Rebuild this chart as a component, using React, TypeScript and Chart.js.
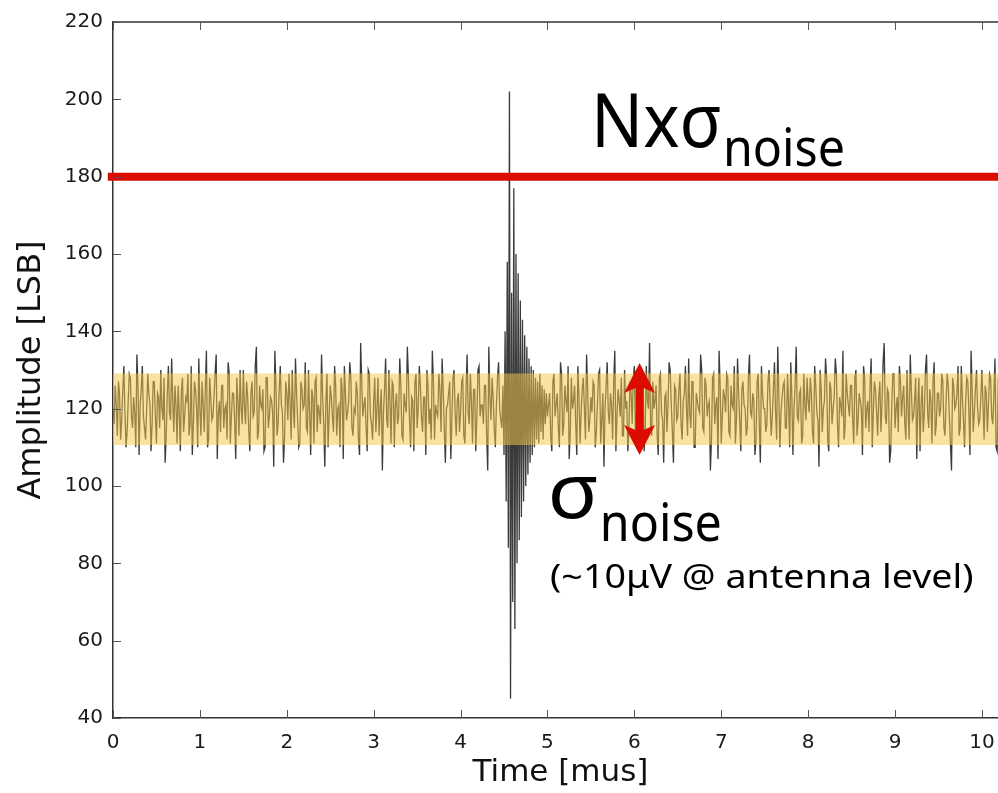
import React, { useEffect, useRef } from "react";
import { Chart, registerables } from "chart.js";

Chart.register(...registerables);

// ---- data ----
// Samples are interleaved: even samples from NOISE_LSB_EVEN, odd samples from NOISE_LSB_ODD.
const SAMPLE_STEP_US = 0.0125;
const NOISE_LSB_EVEN = [
  120,126,113,124,117,131,110,122,128,115,119,134,108,125,118,112,129,121,116,127,
  111,123,130,117,106,124,119,133,114,121,126,109,128,118,122,113,131,116,125,110,
  120,127,114,135,112,123,118,129,107,122,126,115,121,132,111,124,117,128,113,120,
  130,116,123,109,127,119,136,114,121,125,110,128,118,122,105,126,116,131,119,113,
  124,129,112,120,133,117,111,125,121,115,130,108,123,127,114,119,134,116,122,110,
  126,118,131,113,121,128,107,124,119,132,115,120,127,112,137,118,123,109,129,116,
  122,114,128,120,104,125,117,130,111,126,121,116,133,113,124,119,128,110,122,127,
  115,131,118,123,108,126,120,135,112,119,129,114,125,106,121,127,117,130,113,124,
  119,128,111,134,116,122,125,109,130,118,121,126,113,136,117,123,110,128,120,115,
  108,96,84,45,70,63,80,86,92,96,100,103,106,108,110,112,111,114,112,116,
  118,124,109,129,121,115,132,113,126,119,107,128,122,116,131,111,125,120,134,114,
  123,127,110,121,130,117,105,126,119,124,112,135,118,122,128,113,120,109,127,116,
  131,119,124,111,128,115,122,137,113,120,126,108,129,117,123,114,132,121,106,125,
  118,129,112,124,120,133,115,127,110,122,119,130,114,126,121,104,128,116,123,135,
  111,125,119,128,113,121,131,117,124,109,127,120,115,134,118,122,112,129,106,124,
  120,116,130,113,125,119,136,110,123,127,115,121,132,108,126,118,124,111,129,117,
  122,128,114,131,119,105,125,120,133,112,127,116,123,129,110,121,135,115,124,118,
  126,111,130,117,122,108,128,120,114,133,119,125,113,127,121,137,116,124,109,129,
  115,123,131,118,126,112,120,134,117,122,107,128,121,114,130,119,125,111,132,116,
  124,120,127,113,129,118,104,126,121,131,115,123,110,128,119,135,114,125,120,117,
  130,112,124,121,128,116,133,109,126,119,122,127,
];
const NOISE_LSB_ODD = [
  116,121,127,112,125,119,114,129,118,123,110,126,121,131,115,120,124,109,127,118,
  124,115,120,128,113,131,117,122,126,111,119,125,114,123,129,116,108,127,120,133,
  113,121,125,110,128,117,123,134,119,114,126,120,112,129,118,124,107,122,130,116,
  121,127,114,124,118,131,112,126,120,109,128,115,123,119,135,113,125,121,106,127,
  117,122,130,115,124,110,127,120,132,114,119,125,111,128,121,116,123,105,129,118,
  123,114,126,120,110,125,131,117,122,128,113,119,124,108,127,121,115,130,118,112,
  128,120,113,125,119,133,115,122,127,110,124,118,126,112,121,136,117,123,109,129,
  120,126,114,123,130,116,112,127,121,118,125,133,115,120,124,107,128,119,122,114,
  127,113,124,119,129,111,125,118,131,121,116,126,104,123,128,115,121,132,117,126,
  140,158,202,150,177,160,155,148,143,139,136,133,131,130,128,127,129,126,125,124,
  121,113,127,118,124,110,129,116,122,131,114,120,126,108,123,119,128,112,125,117,
  119,126,114,129,111,124,120,132,116,121,127,109,125,118,113,130,122,115,124,128,
  112,123,118,126,109,131,120,115,127,122,113,128,119,106,124,121,130,114,126,117,
  125,116,122,131,113,119,127,110,124,120,134,115,128,118,122,112,129,121,107,126,
  118,123,129,114,126,120,111,133,117,125,121,113,128,119,124,108,127,116,131,120,
  114,127,121,118,132,112,124,119,126,115,129,110,123,120,136,117,125,113,121,128,
  119,124,111,126,117,130,114,122,128,109,125,120,133,116,123,118,112,129,121,126,
  117,128,113,124,120,131,115,122,126,110,127,119,123,114,132,118,125,106,121,129,
  120,114,127,123,116,130,112,125,118,128,121,109,126,119,134,115,122,127,113,124,
  118,129,115,122,126,111,128,120,124,113,131,117,122,127,108,125,119,130,116,123,
  121,126,114,129,118,123,110,127,120,132,115,124,
];
const X_TICKS = [0, 1, 2, 3, 4, 5, 6, 7, 8, 9, 10];
const Y_TICKS = [40, 60, 80, 100, 120, 140, 160, 180, 200, 220];
const X_MIN = 0;
const X_MAX = 10.3;
const Y_MIN = 40;
const Y_MAX = 220;
const THRESHOLD_LSB = 180;
const THRESHOLD_X = [-0.06, 10.3];
const BAND_LOW = 110.6;
const BAND_HIGH = 129.1;
const ARROW_X = 6.06;
const ARROW_TOP = 131.8;
const ARROW_BOTTOM = 108;
const LABEL_NX = { x: 5.5, y: 187.6 };
const LABEL_SIGMA = { x: 5.0, y: 91.6 };
const LABEL_NOTE = { x: 5.03, y: 73.6 };
const X_TITLE = "Time [mus]";
const Y_TITLE = "Amplitude [LSB]";
const NOTE_TEXT = "(~10\u03bcV @ antenna level)";

const RED = "#dc0c00";
const AXIS_FONT = "DejaVu Sans";
const ANNO_FONT = "Noto Sans";

function drawScaled(ctx: CanvasRenderingContext2D, text: string, x: number, y: number, font: string, sx: number) {
  ctx.save();
  ctx.translate(x, y);
  ctx.scale(sx, 1);
  ctx.font = font;
  ctx.textAlign = "left";
  ctx.textBaseline = "alphabetic";
  ctx.fillStyle = "#000";
  ctx.fillText(text, 0, 0);
  const w = ctx.measureText(text).width * sx;
  ctx.restore();
  return w;
}

const overlayPlugin = {
  id: "overlay",
  afterDatasetsDraw(chart: any) {
    const { ctx, chartArea, scales } = chart;
    const { left, right, top, bottom } = chartArea;
    const xs = scales.x;
    const ys = scales.y;
    ctx.save();
    // noise band
    const yh = ys.getPixelForValue(BAND_HIGH);
    const yl = ys.getPixelForValue(BAND_LOW);
    ctx.fillStyle = "rgba(242,202,78,0.52)";
    ctx.fillRect(left, yh, right - left, yl - yh);

    // frame top line and inward ticks
    ctx.strokeStyle = "#333";
    ctx.lineWidth = 1.5;
    ctx.beginPath();
    ctx.moveTo(left, top);
    ctx.lineTo(right, top);
    ctx.stroke();
    ctx.strokeStyle = "#555";
    ctx.lineWidth = 1;
    ctx.beginPath();
    const tl = 8;
    for (const v of Y_TICKS) {
      const py = Math.round(ys.getPixelForValue(v)) + 0.5;
      ctx.moveTo(left, py);
      ctx.lineTo(left + tl, py);
    }
    for (const v of X_TICKS) {
      const px = Math.round(xs.getPixelForValue(v)) + 0.5;
      ctx.moveTo(px, bottom);
      ctx.lineTo(px, bottom - tl);
      ctx.moveTo(px, top);
      ctx.lineTo(px, top + tl);
    }
    ctx.stroke();

    // double arrow
    const ax = xs.getPixelForValue(ARROW_X);
    const at = ys.getPixelForValue(ARROW_TOP);
    const ab = ys.getPixelForValue(ARROW_BOTTOM);
    const hl = 30;
    const hw = 15.5;
    const sw = 4;
    ctx.fillStyle = RED;
    ctx.beginPath();
    ctx.moveTo(ax, at);
    ctx.lineTo(ax + hw, at + hl);
    ctx.lineTo(ax + sw, at + hl - 5);
    ctx.lineTo(ax + sw, ab - hl + 5);
    ctx.lineTo(ax + hw, ab - hl);
    ctx.lineTo(ax, ab);
    ctx.lineTo(ax - hw, ab - hl);
    ctx.lineTo(ax - sw, ab - hl + 5);
    ctx.lineTo(ax - sw, at + hl - 5);
    ctx.lineTo(ax - hw, at + hl);
    ctx.closePath();
    ctx.fill();
    ctx.restore();
  },
  afterDraw(chart: any) {
    const { ctx, scales } = chart;
    const xs = scales.x;
    const ys = scales.y;
    // N x sigma_noise
    let px = xs.getPixelForValue(LABEL_NX.x);
    let py = ys.getPixelForValue(LABEL_NX.y);
    let w = drawScaled(ctx, "Nx\u03c3", px, py, `74px "${ANNO_FONT}"`, 0.93);
    drawScaled(ctx, "noise", px + w + 1, py + 19, `52px "${ANNO_FONT}"`, 0.93);
    // sigma_noise
    px = xs.getPixelForValue(LABEL_SIGMA.x);
    py = ys.getPixelForValue(LABEL_SIGMA.y);
    w = drawScaled(ctx, "\u03c3", px, py, `76px "${ANNO_FONT}"`, 1.1);
    drawScaled(ctx, "noise", px + w + 1, py + 23, `52px "${ANNO_FONT}"`, 0.93);
    // note
    px = xs.getPixelForValue(LABEL_NOTE.x);
    py = ys.getPixelForValue(LABEL_NOTE.y);
    drawScaled(ctx, NOTE_TEXT, px, py, `33px "${ANNO_FONT}"`, 1.14);
  },
};

export default function App() {
  const ref = useRef<HTMLCanvasElement | null>(null);
  useEffect(() => {
    if (!ref.current) return;
    const signal: { x: number; y: number }[] = [];
    NOISE_LSB_EVEN.forEach((v, i) => {
      signal.push({ x: 2 * i * SAMPLE_STEP_US, y: v });
      if (i < NOISE_LSB_ODD.length) signal.push({ x: (2 * i + 1) * SAMPLE_STEP_US, y: NOISE_LSB_ODD[i] });
    });
    const chart = new Chart(ref.current, {
      type: "line",
      data: {
        datasets: [
          {
            label: "threshold",
            data: THRESHOLD_X.map((x) => ({ x, y: THRESHOLD_LSB })),
            borderColor: RED,
            borderWidth: 8,
            pointRadius: 0,
            clip: false as any,
            order: 0,
          },
          {
            label: "signal",
            data: signal,
            borderColor: "rgba(10,10,10,0.8)",
            borderWidth: 1.3,
            pointRadius: 0,
            tension: 0,
            order: 1,
          },
        ],
      },
      options: {
        responsive: false,
        animation: false,
        devicePixelRatio: 1,
        layout: { padding: { top: 17, right: 4, left: 0, bottom: 0 } },
        plugins: { legend: { display: false }, tooltip: { enabled: false } },
        scales: {
          x: {
            type: "linear",
            min: X_MIN,
            max: X_MAX,
            afterBuildTicks: (s: any) => {
              s.ticks = X_TICKS.map((v) => ({ value: v }));
            },
            grid: { display: false, drawTicks: false },
            border: { display: true, color: "#333", width: 1.5 },
            ticks: {
              font: { family: AXIS_FONT, size: 20 },
              color: "#1a1a1a",
              padding: 13,
              maxRotation: 0,
              autoSkip: false,
              callback: (v: any) => String(v),
            },
            title: {
              display: true,
              text: X_TITLE,
              color: "#111",
              font: { family: AXIS_FONT, size: 31, lineHeight: 1 },
              padding: { top: 0, bottom: 5 },
            },
            afterFit: (s: any) => {
              s.height = 75;
            },
          },
          y: {
            type: "linear",
            min: Y_MIN,
            max: Y_MAX,
            afterBuildTicks: (s: any) => {
              s.ticks = Y_TICKS.map((v) => ({ value: v }));
            },
            grid: { display: false, drawTicks: false },
            border: { display: true, color: "#333", width: 1.5 },
            ticks: {
              font: { family: AXIS_FONT, size: 20 },
              color: "#1a1a1a",
              padding: 10,
              autoSkip: false,
              callback: (v: any) => String(v),
            },
            title: {
              display: true,
              text: Y_TITLE,
              color: "#111",
              font: { family: AXIS_FONT, size: 32, lineHeight: 1 },
              padding: { top: 16, bottom: 0 },
            },
            afterFit: (s: any) => {
              s.width = 113;
            },
          },
        },
      },
      plugins: [overlayPlugin],
    } as any);
    return () => chart.destroy();
  }, []);

  return (
    <div
      style={{
        position: "absolute",
        left: 0,
        top: 0,
        width: 998,
        height: 793,
        overflow: "hidden",
        background: "#fff",
      }}
    >
      <canvas ref={ref} width={1012} height={793} style={{ width: 1012, height: 793, display: "block" }} />
    </div>
  );
}
